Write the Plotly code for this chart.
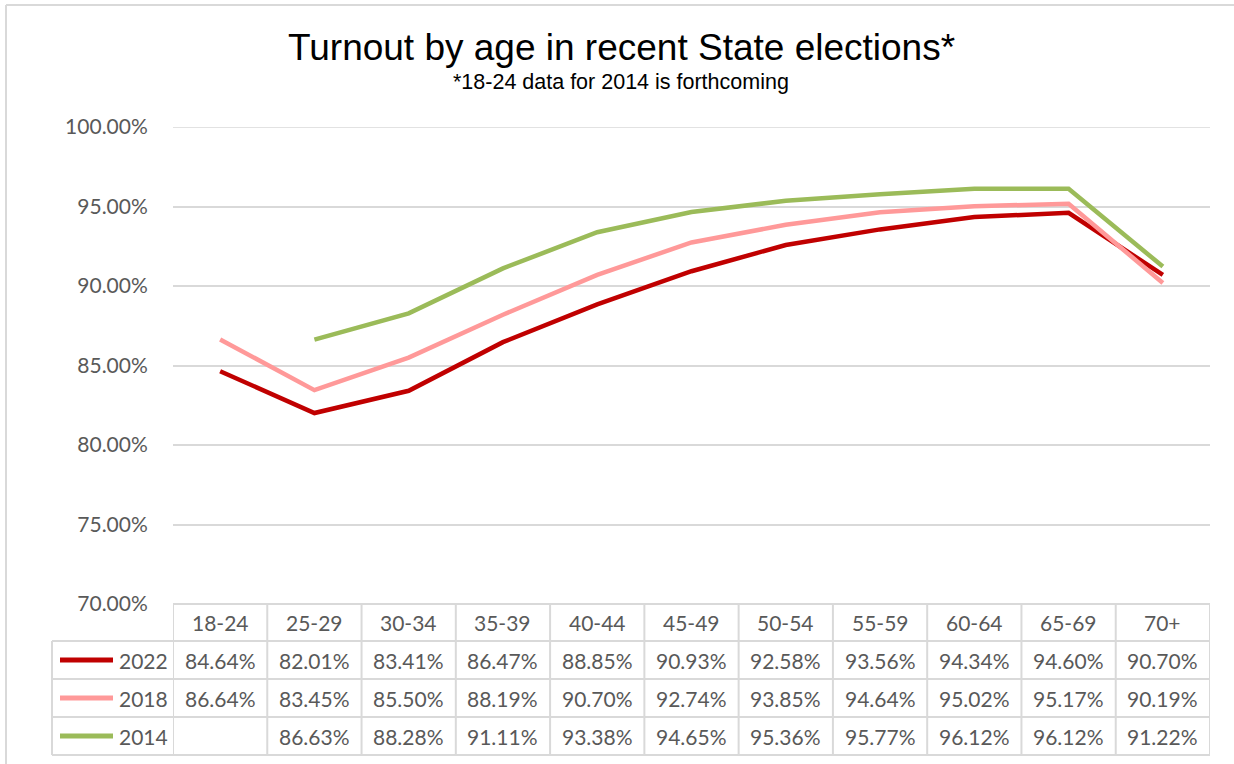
import plotly.graph_objects as go

categories = ["18-24", "25-29", "30-34", "35-39", "40-44", "45-49",
              "50-54", "55-59", "60-64", "65-69", "70+"]
series_names = ["2022", "2018", "2014"]
turnout_2022 = [84.64, 82.01, 83.41, 86.47, 88.85, 90.93, 92.58, 93.56, 94.34, 94.60, 90.70]
turnout_2018 = [86.64, 83.45, 85.50, 88.19, 90.70, 92.74, 93.85, 94.64, 95.02, 95.17, 90.19]
turnout_2014 = [None, 86.63, 88.28, 91.11, 93.38, 94.65, 95.36, 95.77, 96.12, 96.12, 91.22]
y_ticks = [70, 75, 80, 85, 90, 95, 100]

series = [turnout_2022, turnout_2018, turnout_2014]
colors = ["#C00000", "#FF9999", "#9BBB59"]

W, H = 1234, 764
def px(x):
    return x / W
def py(y):
    return 1 - y / H

TXT = "#595959"
GRID = "#d9d9d9"
FONT = "Lato"
FS = 21

fig = go.Figure()
xs = list(range(len(categories)))
for name, vals, col in zip(series_names, series, colors):
    fig.add_trace(go.Scatter(x=xs, y=vals, mode="lines", name=name,
                             line=dict(color=col, width=4.5),
                             connectgaps=False, hoverinfo="skip"))

plot_left, plot_right = 173, 1210
plot_top, plot_bottom = 127, 604
row_edges = [604, 641, 679, 717, 755]
legend_left = 52

shapes = []
# outer chart border
shapes.append(dict(type="line", xref="paper", yref="paper", x0=px(6), x1=px(6), y0=py(5), y1=py(764),
                   line=dict(color=GRID, width=2)))
shapes.append(dict(type="line", xref="paper", yref="paper", x0=px(6), x1=px(1234), y0=py(5), y1=py(5),
                   line=dict(color=GRID, width=2)))
# top gridline (at axis range edge)
shapes.append(dict(type="line", xref="paper", yref="y", x0=px(plot_left), x1=px(plot_right),
                   y0=y_ticks[-1], y1=y_ticks[-1], line=dict(color=GRID, width=1.5), layer="below"))
# table horizontal lines
for i, ry in enumerate(row_edges):
    x0 = plot_left if i == 0 else legend_left
    shapes.append(dict(type="line", xref="paper", yref="paper", x0=px(x0), x1=px(plot_right),
                       y0=py(ry), y1=py(ry), line=dict(color=GRID, width=2)))
# legend column left edge
shapes.append(dict(type="line", xref="paper", yref="paper", x0=px(legend_left), x1=px(legend_left),
                   y0=py(row_edges[1]), y1=py(row_edges[-1]), line=dict(color=GRID, width=2)))
# column boundaries
for k in range(len(categories) + 1):
    shapes.append(dict(type="line", xref="x", yref="paper", x0=k - 0.5, x1=k - 0.5,
                       y0=py(row_edges[0]), y1=py(row_edges[-1]), line=dict(color=GRID, width=2)))

annotations = []
# header row
hc = (row_edges[0] + row_edges[1]) / 2
for k, c in enumerate(categories):
    annotations.append(dict(x=k, y=py(hc), xref="x", yref="paper", text=c, showarrow=False,
                            font=dict(family=FONT, size=FS, color=TXT), xanchor="center", yanchor="middle"))
# data rows
for r, (name, vals, col) in enumerate(zip(series_names, series, colors)):
    rc = (row_edges[r + 1] + row_edges[r + 2]) / 2
    shapes.append(dict(type="line", xref="paper", yref="paper", x0=px(60), x1=px(113),
                       y0=py(rc), y1=py(rc), line=dict(color=col, width=5)))
    annotations.append(dict(x=px(117), y=py(rc), xref="paper", yref="paper", text=name, showarrow=False,
                            font=dict(family=FONT, size=FS, color=TXT), xanchor="left", yanchor="middle"))
    for k, v in enumerate(vals):
        if v is None:
            continue
        annotations.append(dict(x=k, y=py(rc), xref="x", yref="paper", text=f"{v:.2f}%", showarrow=False,
                                font=dict(family=FONT, size=FS, color=TXT), xanchor="center", yanchor="middle"))

# title and subtitle
annotations.append(dict(x=px(621), y=py(47), xref="paper", yref="paper",
                        text="Turnout by age in recent State elections*", showarrow=False,
                        font=dict(family="Liberation Sans", size=37, color="#000000"),
                        xanchor="center", yanchor="middle"))
annotations.append(dict(x=px(621), y=py(82), xref="paper", yref="paper",
                        text="*18-24 data for 2014 is forthcoming", showarrow=False,
                        font=dict(family="Liberation Sans", size=21.5, color="#000000"),
                        xanchor="center", yanchor="middle"))

fig.update_layout(
    width=W, height=H,
    margin=dict(l=0, r=0, t=0, b=0, pad=0),
    paper_bgcolor="white", plot_bgcolor="white",
    showlegend=False,
    xaxis=dict(domain=[px(plot_left), px(plot_right)], range=[-0.5, 10.5], automargin=False,
               showgrid=False, zeroline=False, showticklabels=False, showline=False),
    yaxis=dict(domain=[py(plot_bottom), py(plot_top)], range=[70, 100], automargin=False,
               tickvals=y_ticks, ticktext=[f"{t:.2f}%" for t in y_ticks],
               showgrid=True, gridcolor=GRID, gridwidth=1.5, zeroline=False, showline=False,
               ticks="outside", ticklen=20, tickcolor="rgba(0,0,0,0)",
               tickfont=dict(family=FONT, size=FS, color=TXT)),
    shapes=shapes,
    annotations=annotations,
)

post = ("document.documentElement.style.margin='0';document.body.style.margin='0';"
        "document.documentElement.style.overflow='hidden';document.body.style.overflow='hidden';"
        "var d=document.getElementById('{plot_id}');d.style.position='fixed';d.style.top='0px';d.style.left='0px';")
fig.write_html("out.html", post_script=post, config={"displayModeBar": False})
